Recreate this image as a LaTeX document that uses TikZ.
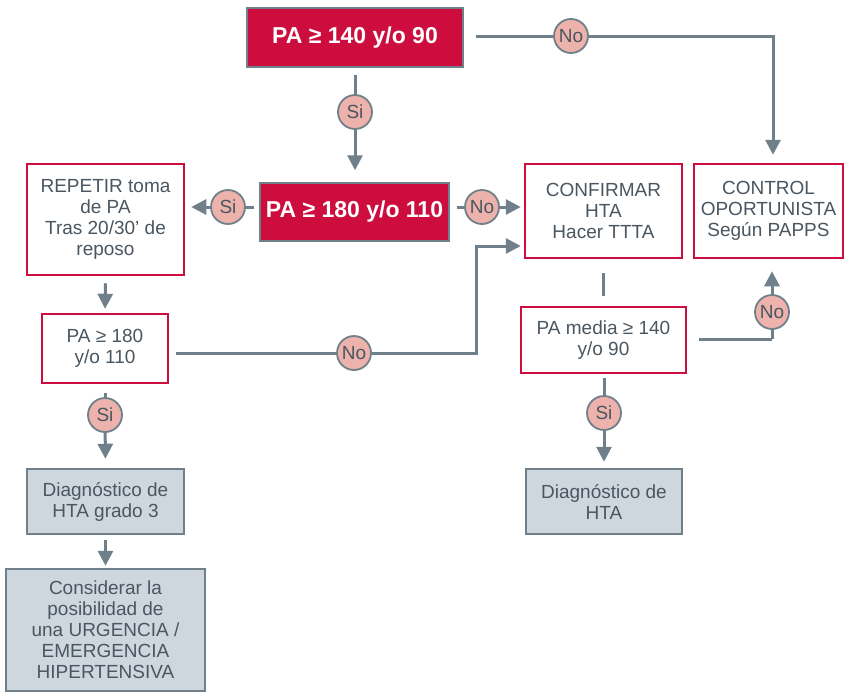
\documentclass[tikz,border=0pt]{standalone}
\usepackage{fontspec}
\setmainfont{Liberation Sans}
\usetikzlibrary{arrows.meta}
\definecolor{crim}{HTML}{CC0D3D}
\definecolor{slate}{HTML}{6F808A}
\definecolor{txt}{HTML}{4A5660}
\definecolor{pinkc}{HTML}{ECB2AB}
\definecolor{grayf}{HTML}{CFD7DE}
\tikzset{
  redfill/.style={fill=crim, draw=slate, line width=1.5pt, text=white, inner sep=0pt,
    font=\bfseries\fontsize{23}{26}\selectfont},
  redbox/.style={fill=white, draw=crim, line width=2.5pt, text=txt, align=center, inner sep=0pt,
    font=\fontsize{19}{21}\selectfont},
  graybox/.style={fill=grayf, draw=slate, line width=2.5pt, text=txt, align=center, inner sep=0pt,
    font=\fontsize{19}{21}\selectfont},
  circ/.style={circle, fill=pinkc, draw=slate, line width=1.8pt, minimum size=34pt, inner sep=0pt,
    text=txt, font=\fontsize{19}{21}\selectfont},
  conn/.style={draw=slate, line width=3pt},
  arr/.style={conn, -{Triangle[length=15pt,width=15pt]}},
}
\begin{document}
\begin{tikzpicture}[x=1pt,y=-1pt]
\useasboundingbox (0,0) rectangle (845,691);
% boxes
\node[redfill, minimum width=216pt, minimum height=59pt] (b1) at (355,37.5) {PA ≥ 140 y/o 90};
\node[redfill, minimum width=189pt, minimum height=58pt] (b2) at (354.5,212) {PA ≥ 180 y/o 110};
\node[redbox, minimum width=157pt, minimum height=111pt] (rep) at (105.5,219.5) {REPETIR toma\\de PA\\Tras 20/30’ de\\reposo};
\node[redbox, minimum width=157pt, minimum height=94pt] (conf) at (603.5,211) {CONFIRMAR\\HTA\\Hacer TTTA};
\node[redbox, minimum width=149pt, minimum height=94pt] (ctrl) at (768.5,211) {CONTROL\\OPORTUNISTA\\Según PAPPS};
\node[redbox, minimum width=126pt, minimum height=69pt] (pa3) at (105,348.5) {PA ≥ 180\\y/o 110};
\node[redbox, minimum width=165pt, minimum height=66pt] (pam) at (603.5,340) {PA media ≥ 140\\y/o 90};
\node[graybox, minimum width=156pt, minimum height=65pt] (dr) at (604,501.5) {Diagnóstico de\\HTA};
\node[graybox, minimum width=157pt, minimum height=65pt] (d3) at (105.5,501.5) {Diagnóstico de\\HTA grado 3};
\node[graybox, minimum width=199pt, minimum height=122pt] (cons) at (105.5,630) {Considerar la\\posibilidad de\\una URGENCIA /\\EMERGENCIA\\HIPERTENSIVA};
% circle positions
\coordinate (c1) at (571,36);
\coordinate (c2) at (355,112);
\coordinate (c3) at (228,207);
\coordinate (c4) at (482,207);
\coordinate (c5) at (354,353);
\coordinate (c6) at (105,415);
\coordinate (c7) at (772,312);
\coordinate (c8) at (604,413);
\coordinate (k0) at (773,36);
\coordinate (k1) at (476,353);
\coordinate (k2) at (772,339);
\coordinate (k3) at (476,246);
% connectors
\draw[conn] ([xshift=12pt]b1.east |- c1) -- (c1);
\draw[arr, shorten >=8pt] (c1) -- (k0) -- (ctrl.north -| k0);
\draw[conn] ([yshift=-7pt]b1.south -| c2) -- (c2);
\draw[arr, shorten >=12pt] (c2) -- (b2.north -| c2);
\draw[conn] ([xshift=-5pt]b2.west |- c3) -- (c3);
\draw[arr, shorten >=6pt] (c3) -- (rep.east |- c3);
\draw[conn] ([xshift=7pt]b2.east |- c4) -- (c4);
\draw[arr, shorten >=3pt] (c4) -- (conf.west |- c4);
\draw[arr, shorten <=7pt, shorten >=4pt] (rep.south) -- (pa3.north);
\draw[conn] ([xshift=7pt]pa3.east |- c5) -- (c5);
\draw[arr, shorten >=3pt] (c5) -- (k1) -- (k3) -- (conf.west |- k3);
\draw[conn] ([yshift=-9pt]pa3.south) -- (c6);
\draw[arr, shorten >=9pt] (c6) -- (d3.north);
\draw[arr, shorten <=5pt, shorten >=2pt] (d3.south) -- (cons.north);
\draw[conn, shorten <=14pt, shorten >=10pt] (conf.south) -- (pam.north -| conf.south);
\draw[conn] ([xshift=12pt]pam.east |- k2) -- (k2);
\draw[conn] (k2) -- (c7);
\draw[arr, shorten >=12pt] (c7) -- (ctrl.south -| c7);
\draw[conn] ([yshift=-4pt]pam.south -| c8) -- (c8);
\draw[arr, shorten >=6pt] (c8) -- (dr.north -| c8);
% circles
\node[circ] (n1) at (c1) {No};
\node[circ] (s1) at (c2) {Si};
\node[circ] (s2) at (c3) {Si};
\node[circ] (n2) at (c4) {No};
\node[circ] (n3) at (c5) {No};
\node[circ] (s3) at (c6) {Si};
\node[circ] (n4) at (c7) {No};
\node[circ] (s4) at (c8) {Si};
\end{tikzpicture}
\end{document}
